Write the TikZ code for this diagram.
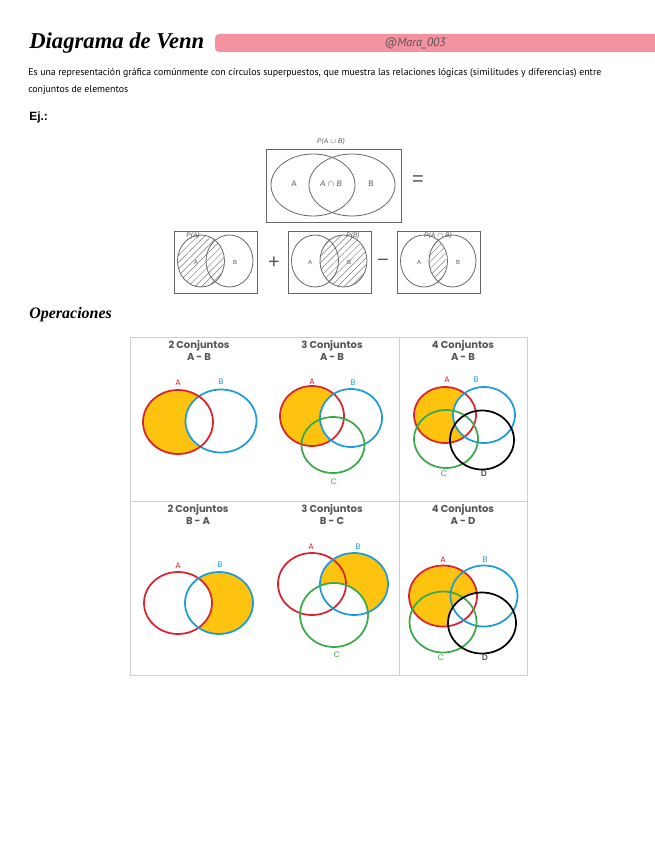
\documentclass[tikz,border=0pt]{standalone}
\usepackage{fontspec}
\setmainfont{Liberation Sans}
\newfontfamily\titlefont{Liberation Serif}
\newfontfamily\tablefont{Poppins}
\newfontfamily\handfont{PT Sans}
\usetikzlibrary{patterns.meta}

\definecolor{barpink}{HTML}{F4919F}
\definecolor{redA}{HTML}{D8232F}
\definecolor{blueB}{HTML}{1D9BD7}
\definecolor{greenC}{HTML}{3BA84A}
\definecolor{yellowF}{HTML}{FDC30F}
\definecolor{gridgray}{HTML}{CFCFCF}
\definecolor{ink}{HTML}{555555}

\tikzset{
	exline/.style={draw=ink!90, line width=0.6pt},
	exlbl/.style={font=\itshape\fontsize{5}{5}\selectfont, text=ink, inner sep=0pt},
	hatch/.style={pattern={Lines[angle=45, distance=3.6pt, line width=0.35pt]}, pattern color=ink!80},
	sign/.style={font=\fontsize{15}{15}\selectfont, text=ink},
	ringA/.style={draw=redA, line width=1.3pt},
	ringB/.style={draw=blueB, line width=1.3pt},
	ringC/.style={draw=greenC, line width=1.3pt},
	ringD/.style={draw=black, line width=1.3pt},
	setlbl/.style={font=\tablefont\fontsize{6}{6}\selectfont, inner sep=0pt},
	cellhead/.style={font=\tablefont\bfseries\fontsize{7.5}{9}\selectfont, text=ink, align=center, inner sep=0pt, anchor=north},
	gridline/.style={draw=gridgray, line width=0.6pt}
}

\begin{document}
\begin{tikzpicture}[x=0.75pt,y=-0.75pt]
	\useasboundingbox (0,0) rectangle (655,848);

	% header
	\fill[barpink, rounded corners=3pt] (215,34) rectangle (670,52);
	\node[font=\handfont\itshape\fontsize{9}{9}\selectfont, text=ink] (handle) at (415,43) {@Mara\_003};
	\node[anchor=base west, font=\titlefont\bfseries\itshape\fontsize{17}{17}\selectfont, inner sep=0pt] (title) at (29,49) {Diagrama de Venn};
	\node[anchor=north west, align=left, inner sep=0pt, font=\handfont\fontsize{7.35}{12.75}\selectfont] (desc) at (28,68)
		{Es una representación gráfica comúnmente con círculos superpuestos, que muestra las relaciones lógicas (similitudes y diferencias) entre\\conjuntos de elementos};
	\node[anchor=base west, font=\bfseries\fontsize{9}{9}\selectfont, inner sep=0pt] (ej) at (29,121) {Ej.:};

	% example: union
	\draw[exline] (266,149) rectangle (401,222);
	\draw[exline] (313,185) ellipse [x radius=42, y radius=31];
	\draw[exline] (352,185) ellipse [x radius=43, y radius=31];
	\node[exlbl] (pu) at (331,142) {P(A $\cup$ B)};
	\node[exlbl, font=\fontsize{6}{6}\selectfont] (ua) at (294,184) {A};
	\node[exlbl, font=\itshape\fontsize{6}{6}\selectfont] (uab) at (331,184) {A $\cap$ B};
	\node[exlbl, font=\fontsize{6}{6}\selectfont] (ub) at (371,184) {B};
	\node[sign] (eq) at (418,181) {=};

	% example: hatched parts
	\begin{scope}
		\clip (201,261) ellipse [x radius=23.5, y radius=26];
		\fill[hatch] (174,231) rectangle (257,293);
	\end{scope}
	\begin{scope}
		\clip (343,261) ellipse [x radius=23.5, y radius=26];
		\fill[hatch] (288,231) rectangle (371,293);
	\end{scope}
	\begin{scope}
		\clip (423,261) ellipse [x radius=23.5, y radius=26];
		\clip (452,261) ellipse [x radius=23.5, y radius=26];
		\fill[hatch] (397,231) rectangle (479,293);
	\end{scope}
	\foreach \bx in {174,288,397} {
		\draw[exline] (\bx,231) rectangle ++(83,62);
		\draw[exline] (\bx+27,261) ellipse [x radius=23.5, y radius=26];
		\draw[exline] (\bx+55.5,261) ellipse [x radius=23.5, y radius=26];
		\node[exlbl, font=\fontsize{4.5}{4.5}\selectfont] (la\bx) at (\bx+22,262) {A};
		\node[exlbl, font=\fontsize{4.5}{4.5}\selectfont] (lb\bx) at (\bx+61,262) {B};
	}
	\node[exlbl] (pa) at (193,236) {P(A)};
	\node[exlbl] (pb) at (353,236) {P(B)};
	\node[exlbl] (pab) at (438,236) {P(A $\cap$ B)};
	\node[sign] (plus) at (274,263) {+};
	\node[sign] (minus) at (383,263) {−};

	% operaciones
	\node[anchor=base west, font=\titlefont\bfseries\itshape\fontsize{12}{12}\selectfont, inner sep=0pt] (oper) at (29,318) {Operaciones};

	\draw[gridline] (130,337) rectangle (527,675);
	\draw[gridline] (130,501) -- (527,501);
	\draw[gridline] (399,337) -- (399,675);

	\foreach \i/\cx/\cy/\n/\op in {1/199/340/2/A - B, 2/332/340/3/A - B, 3/463/340/4/A - B,
		4/198/504/2/B - A, 5/332/504/3/B - C, 6/463/504/4/A - D}
		\node[cellhead] (head\i) at (\cx,\cy) {\n\ Conjuntos\\\op};

	% row 1, 2 sets: A - B
	\begin{scope}
		\clip (178,422) ellipse [x radius=35, y radius=32];
		\fill[yellowF] (178,422) ellipse [x radius=35, y radius=32];
		\fill[white] (221,421) ellipse [x radius=35.5, y radius=31.5];
	\end{scope}
	\draw[ringB] (221,421) ellipse [x radius=35.5, y radius=31.5];
	\draw[ringA] (178,422) ellipse [x radius=35, y radius=32];
	\node[setlbl, text=redA] (a1) at (178,383) {A};
	\node[setlbl, text=blueB] (b1) at (221,382) {B};

	% row 1, 3 sets: A - B
	\begin{scope}
		\clip (312,416) ellipse [x radius=32, y radius=30];
		\fill[yellowF] (312,416) ellipse [x radius=32, y radius=30];
		\fill[white] (351,418) ellipse [x radius=31, y radius=29];
	\end{scope}
	\draw[ringA] (312,416) ellipse [x radius=32, y radius=30];
	\draw[ringB] (351,418) ellipse [x radius=31, y radius=29];
	\draw[ringC] (333,445) ellipse [x radius=31.5, y radius=28];
	\node[setlbl, text=redA] (a2) at (312,382) {A};
	\node[setlbl, text=blueB] (b2) at (353,383) {B};
	\node[setlbl, text=greenC] (c2) at (334,482) {C};

	% row 1, 4 sets: A - B
	\begin{scope}
		\clip (445,415) ellipse [x radius=31, y radius=28];
		\fill[yellowF] (445,415) ellipse [x radius=31, y radius=28];
		\fill[white] (484,415) ellipse [x radius=31, y radius=28];
	\end{scope}
	\draw[ringA] (445,415) ellipse [x radius=31, y radius=28];
	\draw[ringB] (484,415) ellipse [x radius=31, y radius=28];
	\draw[ringC] (446,439) ellipse [x radius=32, y radius=29];
	\draw[ringD] (482,440) ellipse [x radius=32, y radius=29.5];
	\node[setlbl, text=redA] (a3) at (447,380) {A};
	\node[setlbl, text=blueB] (b3) at (476,380) {B};
	\node[setlbl, text=greenC] (c3) at (444,474) {C};
	\node[setlbl, text=black] (d3) at (484,474) {D};

	% row 2, 2 sets: B - A
	\begin{scope}
		\clip (219,603) ellipse [x radius=34, y radius=31];
		\fill[yellowF] (219,603) ellipse [x radius=34, y radius=31];
		\fill[white] (178,603) ellipse [x radius=34, y radius=31];
	\end{scope}
	\draw[ringA] (178,603) ellipse [x radius=34, y radius=31];
	\draw[ringB] (219,603) ellipse [x radius=34, y radius=31];
	\node[setlbl, text=redA] (a4) at (178,566) {A};
	\node[setlbl, text=blueB] (b4) at (220,565) {B};

	% row 2, 3 sets: B - C
	\begin{scope}
		\clip (354,584) ellipse [x radius=34, y radius=31];
		\fill[yellowF] (354,584) ellipse [x radius=34, y radius=31];
		\fill[white] (334,615) ellipse [x radius=34, y radius=32];
	\end{scope}
	\draw[ringA] (312,584) ellipse [x radius=34, y radius=31];
	\draw[ringB] (354,584) ellipse [x radius=34, y radius=31];
	\draw[ringC] (334,615) ellipse [x radius=34, y radius=32];
	\node[setlbl, text=redA] (a5) at (311,547) {A};
	\node[setlbl, text=blueB] (b5) at (358,547) {B};
	\node[setlbl, text=greenC] (c5) at (337,655) {C};

	% row 2, 4 sets: A - D
	\begin{scope}
		\clip (443,596) ellipse [x radius=34, y radius=30.5];
		\fill[yellowF] (443,596) ellipse [x radius=34, y radius=30.5];
		\fill[white] (482,623) ellipse [x radius=34, y radius=30.5];
	\end{scope}
	\draw[ringA] (443,596) ellipse [x radius=34, y radius=30.5];
	\draw[ringB] (484,596) ellipse [x radius=33.5, y radius=30.5];
	\draw[ringC] (443,622) ellipse [x radius=33.5, y radius=30.5];
	\draw[ringD] (482,623) ellipse [x radius=34, y radius=30.5];
	\node[setlbl, text=redA] (a6) at (443,560) {A};
	\node[setlbl, text=blueB] (b6) at (485,560) {B};
	\node[setlbl, text=greenC] (c6) at (441,658) {C};
	\node[setlbl, text=black] (d6) at (485,658) {D};
\end{tikzpicture}
\end{document}
